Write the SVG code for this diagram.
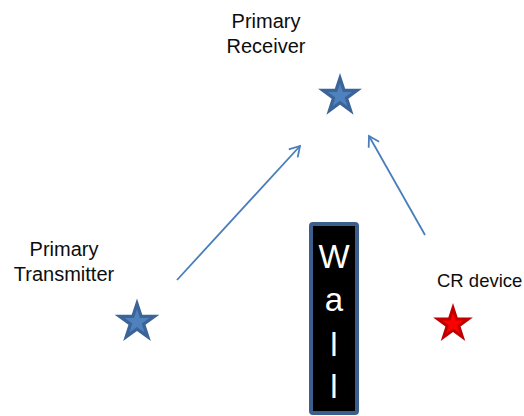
<svg xmlns="http://www.w3.org/2000/svg" width="524" height="416" viewBox="0 0 524 416">
<style>
.lbl{font-family:"Liberation Sans",Arial,sans-serif;font-size:20px;fill:#0d0d0d;text-anchor:middle}
.wall{font-family:"Liberation Sans",Arial,sans-serif;font-size:33px;fill:#ffffff;text-anchor:middle}
.conn{stroke:#4a7ebb;stroke-width:1.8;fill:none;marker-end:url(#arr)}
.bo{fill:#3b6499}.bi{fill:#4f81bd}
.ro{fill:#c00000}.ri{fill:#ff0000}
</style>
<defs>
<polygon id="star" points="0,-22 4.94,-6.8 20.92,-6.8 7.99,2.6 12.93,17.8 0,8.4 -12.93,17.8 -7.99,2.6 -20.92,-6.8 -4.94,-6.8"/>
<marker id="arr" markerUnits="userSpaceOnUse" markerWidth="16" markerHeight="16" viewBox="-12 -8 16 16" refX="0" refY="0" orient="auto">
<path d="M-10,-6 L0,0 L-10,6" fill="none" stroke="#4a7ebb" stroke-width="1.8"/>
</marker>
</defs>
<g id="connectors">
<line class="conn" x1="177" y1="280" x2="300" y2="146"/>
<line class="conn" x1="425" y1="235" x2="369" y2="136"/>
</g>
<g id="primary-receiver">
<g transform="translate(340,96) scale(1.05)"><use href="#star" class="bo"/><use href="#star" class="bi" transform="scale(0.55)"/></g>
<text class="lbl" x="266" y="28">Primary</text>
<text class="lbl" x="266" y="53">Receiver</text>
</g>
<g id="primary-transmitter">
<g transform="translate(137,322) scale(1.07)"><use href="#star" class="bo"/><use href="#star" class="bi" transform="scale(0.55)"/></g>
<text class="lbl" x="64" y="256">Primary</text>
<text class="lbl" x="64" y="281">Transmitter</text>
</g>
<g id="cr-device">
<g transform="translate(453,324) scale(0.95)"><use href="#star" class="ro"/><use href="#star" class="ri" transform="scale(0.55)"/></g>
<text class="lbl" x="437" y="287" style="text-anchor:start;font-size:18.5px">CR device</text>
</g>
<g id="wall">
<rect x="311" y="224" width="46" height="189" rx="2" fill="#000000" stroke="#3b5e8c" stroke-width="4"/>
<text class="wall" x="334" y="268">W</text>
<text class="wall" x="334" y="311">a</text>
<text class="wall" x="334" y="356">l</text>
<text class="wall" x="334" y="398">l</text>
</g>
</svg>
